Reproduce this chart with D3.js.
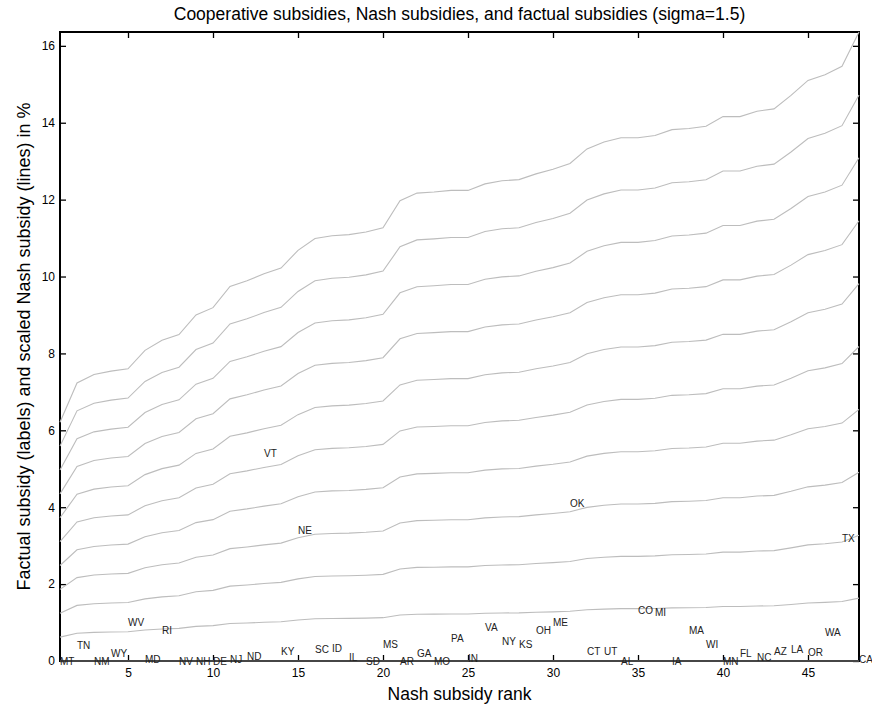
<!DOCTYPE html>
<html>
<head>
<meta charset="utf-8">
<script src="https://cdn.jsdelivr.net/npm/d3@7"></script>
<style>
  body { margin: 0; background: #fff; }
  svg { display: block; font-family: "Liberation Sans", Arial, Helvetica, sans-serif; }
</style>
</head>
<body>
<script>
// states ordered by Nash subsidy rank (1..48)
let states = ["MT", "TN", "NM", "WY", "WV", "MD", "RI", "NV", "NH", "DE",
  "NJ", "ND", "VT", "KY", "NE", "SC", "ID", "IL", "SD", "MS",
  "AR", "GA", "MO", "PA", "IN", "VA", "NY", "KS", "OH", "ME",
  "OK", "CT", "UT", "AL", "CO", "MI", "IA", "MA", "WI", "MN",
  "FL", "NC", "AZ", "LA", "OR", "WA", "TX", "CA"];

// factual subsidy in % (label heights)
let factual = [0.00, 0.40, 0.00, 0.20, 1.00, 0.03, 0.80, -0.02, 0.00, 0.00,
  0.03, 0.11, 5.41, 0.24, 3.40, 0.30, 0.33, 0.10, -0.01, 0.42,
  -0.01, 0.20, -0.01, 0.60, 0.07, 0.87, 0.50, 0.43, 0.79, 1.00,
  4.10, 0.24, 0.24, 0.00, 1.31, 1.26, 0.00, 0.79, 0.43, -0.02,
  0.20, 0.09, 0.26, 0.30, 0.22, 0.75, 3.19, 0.04];

// Nash subsidy in %, sorted
let nash = [0.621, 0.723, 0.745, 0.754, 0.760, 0.808, 0.834, 0.849, 0.900, 0.919,
  0.974, 0.989, 1.007, 1.022, 1.068, 1.099, 1.106, 1.109, 1.116, 1.127,
  1.197, 1.217, 1.220, 1.224, 1.224, 1.241, 1.249, 1.252, 1.267, 1.279,
  1.294, 1.332, 1.350, 1.361, 1.361, 1.367, 1.382, 1.385, 1.391, 1.416,
  1.416, 1.430, 1.436, 1.471, 1.510, 1.525, 1.547, 1.636];

// scaling factors for the Nash lines
let factors = [0, 1, 2, 3, 4, 5, 6, 7, 8, 9, 10];

let xTicks = [5, 10, 15, 20, 25, 30, 35, 40, 45];
let yTicks = [0, 2, 4, 6, 8, 10, 12, 14, 16];

let width = 872;
let height = 708;
let plotLeft = 60, plotRight = 859, plotTop = 32, plotBottom = 661;

let svg = d3.select("body")
  .append("svg")
  .attr("width", width)
  .attr("height", height);

let x = d3.scaleLinear().domain([1, states.length]).range([plotLeft, plotRight]);
let y = d3.scaleLinear()
  .domain([0, d3.max(nash) * d3.max(factors)])
  .range([plotBottom, plotTop]);

// axes (ticks pointing inward, box on all sides)
let axisStyle = (g) => {
  g.select(".domain").remove();
  g.selectAll(".tick line").attr("stroke", "#000").attr("stroke-width", 1.3);
  g.selectAll(".tick text").attr("fill", "#000").attr("font-size", 12)
    .attr("font-family", "Liberation Sans, Arial, sans-serif");
};

svg.append("g")
  .attr("transform", `translate(${plotLeft},0)`)
  .call(d3.axisLeft(y).tickValues(yTicks).tickSize(-6).tickPadding(5))
  .call(axisStyle);

svg.append("g")
  .attr("transform", `translate(${plotRight},0)`)
  .call(d3.axisRight(y).tickValues(yTicks).tickSize(-6).tickFormat(""))
  .call(axisStyle);

svg.append("g")
  .attr("transform", `translate(0,${plotBottom})`)
  .call(d3.axisBottom(x).tickValues(xTicks).tickSize(-6).tickPadding(7))
  .call(axisStyle);

svg.append("g")
  .attr("transform", `translate(0,${plotTop})`)
  .call(d3.axisTop(x).tickValues(xTicks).tickSize(-6).tickFormat(""))
  .call(axisStyle);

svg.append("rect")
  .attr("x", plotLeft)
  .attr("y", plotTop)
  .attr("width", plotRight - plotLeft)
  .attr("height", plotBottom - plotTop)
  .attr("fill", "none")
  .attr("stroke", "#000")
  .attr("stroke-width", 2);

// scaled Nash subsidy lines
let line = (k) => d3.line()
  .x((d, i) => x(i + 1))
  .y((d) => y(d * k));

svg.append("g")
  .selectAll("path")
  .data(factors)
  .join("path")
  .attr("d", (k) => line(k)(nash))
  .attr("fill", "none")
  .attr("stroke", (k) => (k === 0 ? "#8c8c8c" : "#bdbdbd"))
  .attr("stroke-width", 1.1);

// factual subsidy labels
svg.append("g")
  .selectAll("text")
  .data(states)
  .join("text")
  .attr("x", (d, i) => x(i + 1))
  .attr("y", (d, i) => y(factual[i]))
  .attr("dy", "0.36em")
  .attr("font-size", 10)
  .attr("fill", "#222")
  .text((d) => d);

// title and axis labels
svg.append("text")
  .attr("x", (plotLeft + plotRight) / 2)
  .attr("y", 19.5)
  .attr("text-anchor", "middle")
  .attr("font-size", 17.5)
  .text("Cooperative subsidies, Nash subsidies, and factual subsidies (sigma=1.5)");

svg.append("text")
  .attr("x", (plotLeft + plotRight) / 2)
  .attr("y", 700)
  .attr("text-anchor", "middle")
  .attr("font-size", 17.5)
  .text("Nash subsidy rank");

svg.append("text")
  .attr("transform", `translate(30,${(plotTop + plotBottom) / 2}) rotate(-90)`)
  .attr("text-anchor", "middle")
  .attr("font-size", 18)
  .text("Factual subsidy (labels) and scaled Nash subsidy (lines) in %");
</script>
</body>
</html>
